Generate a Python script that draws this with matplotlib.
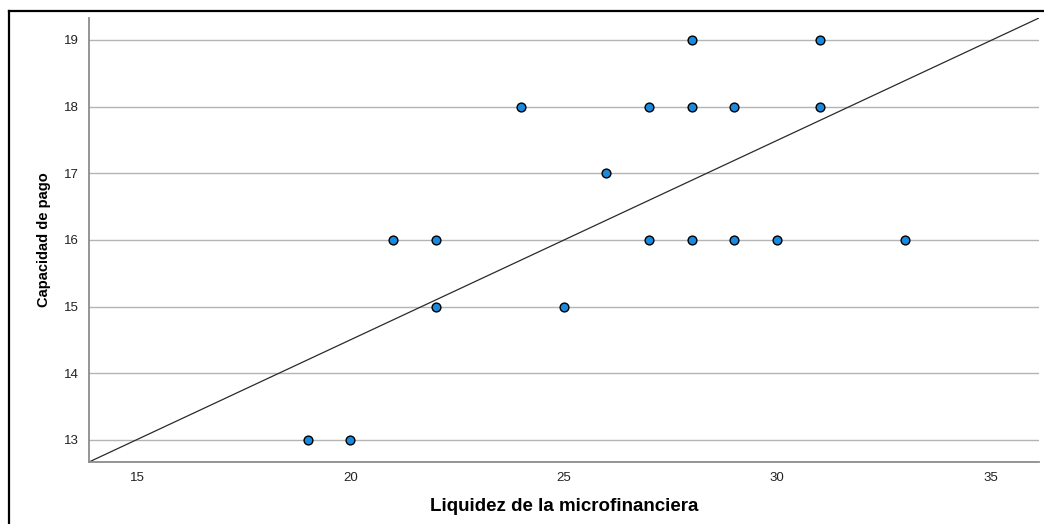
import matplotlib
matplotlib.use("Agg")
import matplotlib.pyplot as plt
from matplotlib.lines import Line2D

plt.rcParams['font.family'] = ['Liberation Sans', 'DejaVu Sans']

liquidez = [19, 20, 21, 22, 22, 24, 25, 26, 27, 27, 28, 28, 28, 29, 29, 30, 31, 31, 33]
capacidad = [13, 13, 16, 16, 15, 18, 15, 17, 18, 16, 19, 18, 16, 18, 16, 16, 19, 18, 16]
x_ticks = [15, 20, 25, 30, 35]
y_ticks = [13, 14, 15, 16, 17, 18, 19]

fig = plt.figure(figsize=(10.44, 5.24), dpi=100)
ax = fig.add_axes([89/1044, 1 - 462/524, 950/1044, 444/524])

ax.set_xlim(13.875, 36.14)
ax.set_ylim(12.67, 19.33)

for y in y_ticks:
    ax.axhline(y, color='#b4b4b4', lw=1.0, zorder=1)

ax.plot([0, 1], [0, 1], transform=ax.transAxes, color='#2a2a2a', lw=0.9, zorder=2)

ax.scatter(liquidez, capacidad, s=40, facecolor='#1a8ae0', edgecolor='black',
           linewidth=1.0, zorder=3)

ax.set_xticks(x_ticks)
ax.set_yticks(y_ticks)
ax.tick_params(axis='both', length=0, labelsize=9.5, colors='#222222', pad=7)
for s in ['top', 'right']:
    ax.spines[s].set_visible(False)
for s in ['left', 'bottom']:
    ax.spines[s].set_color('#8c8c8c')
    ax.spines[s].set_linewidth(1.3)

ax.set_xlabel('Liquidez de la microfinanciera', fontsize=13.5, fontweight='bold', labelpad=10)
ax.set_ylabel('Capacidad de pago', fontsize=10.5, fontweight='bold', labelpad=10)

# outer frame (left and top edges)
fig.add_artist(Line2D([8.5/1044, 8.5/1044], [0, 1 - 11/524], transform=fig.transFigure,
                      color='black', lw=1.6))
fig.add_artist(Line2D([8.5/1044, 1], [1 - 11/524, 1 - 11/524], transform=fig.transFigure,
                      color='black', lw=1.6))

fig.savefig('out.png', dpi=100)
